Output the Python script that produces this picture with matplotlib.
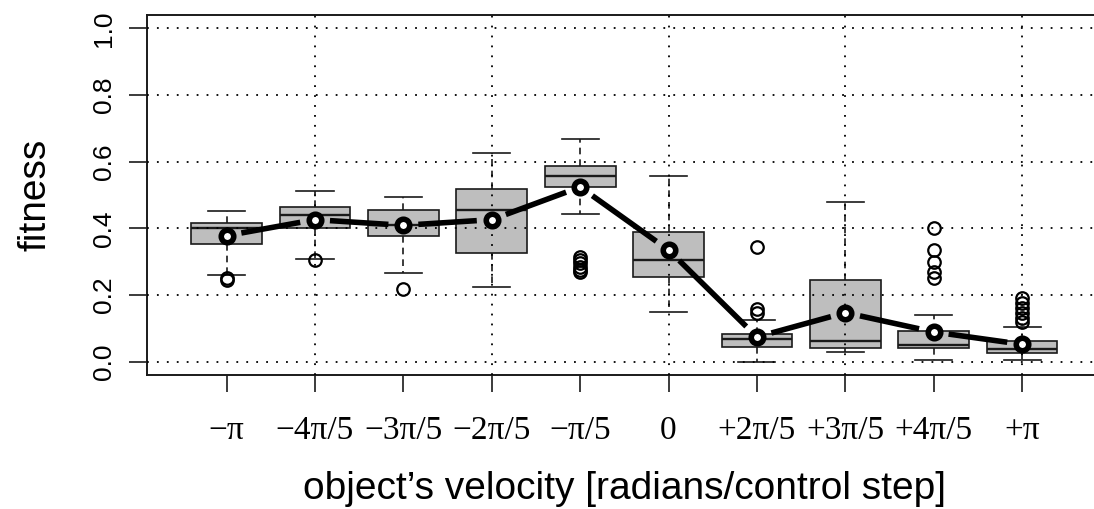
import matplotlib
matplotlib.use("Agg")
import matplotlib.pyplot as plt
import numpy as np

# velocity classes on the x axis
labels = ["\u2212\u03c0", "\u22124\u03c0/5", "\u22123\u03c0/5", "\u22122\u03c0/5", "\u2212\u03c0/5",
          "0", "+2\u03c0/5", "+3\u03c0/5", "+4\u03c0/5", "+\u03c0"]

# box statistics
whislo = [0.260, 0.308, 0.265, 0.225, 0.442, 0.150, 0.000, 0.030, 0.004, 0.004]
q1 = [0.352, 0.400, 0.376, 0.327, 0.524, 0.255, 0.045, 0.040, 0.042, 0.027]
med = [0.400, 0.439, 0.410, 0.454, 0.557, 0.306, 0.067, 0.062, 0.050, 0.037]
q3 = [0.417, 0.463, 0.454, 0.519, 0.587, 0.390, 0.082, 0.245, 0.092, 0.062]
whishi = [0.453, 0.511, 0.494, 0.625, 0.667, 0.557, 0.125, 0.479, 0.141, 0.105]
means = [0.378, 0.426, 0.409, 0.426, 0.524, 0.335, 0.074, 0.147, 0.089, 0.052]
fliers = [
    [0.250, 0.245],
    [0.305],
    [0.218],
    [],
    [0.315, 0.305, 0.295, 0.285, 0.275, 0.270],
    [],
    [0.343, 0.158, 0.145],
    [],
    [0.400, 0.335, 0.300, 0.270, 0.250],
    [0.190, 0.175, 0.160, 0.145, 0.130, 0.120],
]

DPI = 100
fig = plt.figure(figsize=(10.94, 5.09), dpi=DPI)
ax = fig.add_axes([0.1344, 0.2633, 0.8726, 0.7072])

positions = np.arange(1, len(labels) + 1)
stats = []
for i in range(len(labels)):
    stats.append(dict(whislo=whislo[i], q1=q1[i], med=med[i], q3=q3[i],
                      whishi=whishi[i], fliers=fliers[i]))

ax.bxp(
    stats, positions=positions, widths=0.8, patch_artist=True,
    boxprops=dict(facecolor="#bebebe", edgecolor="#1a1a1a", linewidth=1.2),
    medianprops=dict(color="#1a1a1a", linewidth=1.7),
    whiskerprops=dict(color="#1a1a1a", linewidth=1.2, linestyle=(0, (4, 3))),
    capprops=dict(color="#1a1a1a", linewidth=1.2),
    capwidths=0.42,
    flierprops=dict(marker="o", markersize=9, markerfacecolor="none",
                    markeredgecolor="black", markeredgewidth=1.6),
    zorder=2,
)

ax.set_xlim(0.1, 10.9)
ax.set_ylim(-0.04, 1.04)

# dotted grid over the boxes
for y in np.arange(0, 1.01, 0.2):
    ax.axhline(y, color="black", linewidth=1.3, linestyle=(0, (1, 4.5)), zorder=3)
for x in [2, 4, 6, 8, 10]:
    ax.axvline(x, color="black", linewidth=1.3, linestyle=(0, (1, 4.5)), zorder=3)

# mean line with gaps around the points (type = "b")
fig.canvas.draw()
pts = ax.transData.transform(np.column_stack([positions, means]))
gap = 15
inv = ax.transData.inverted()
for a, b in zip(pts[:-1], pts[1:]):
    d = b - a
    n = np.hypot(*d)
    if n <= 2 * gap:
        continue
    u = d / n
    seg = inv.transform(np.vstack([a + u * gap, b - u * gap]))
    ax.plot(seg[:, 0], seg[:, 1], color="black", linewidth=4,
            solid_capstyle="butt", zorder=4)
ax.plot(positions, means, linestyle="none", marker="o", markersize=9,
        markerfacecolor="white", markeredgecolor="black", markeredgewidth=4,
        zorder=5)

ax.set_xticks(positions)
ax.set_xticklabels(labels, family=["Liberation Serif", "DejaVu Serif"], fontsize=24)
ax.set_yticks(np.arange(0, 1.01, 0.2))
ax.set_yticklabels(["0.0", "0.2", "0.4", "0.6", "0.8", "1.0"],
                   family="Liberation Sans", fontsize=19, rotation=90, va="center")
ax.tick_params(axis="x", length=12, width=1.2, pad=17, color="#1a1a1a")
ax.tick_params(axis="y", length=13, width=1.2, pad=9, color="#1a1a1a")

for side in ["left", "bottom", "top"]:
    ax.spines[side].set_linewidth(1.4)
    ax.spines[side].set_color("#1a1a1a")

ax.set_xlabel("object\u2019s velocity [radians/control step]",
              family="Liberation Sans", fontsize=28, labelpad=18)
ax.set_ylabel("fitness", family="Liberation Sans", fontsize=28, labelpad=28)

fig.savefig("out.png", dpi=DPI)
